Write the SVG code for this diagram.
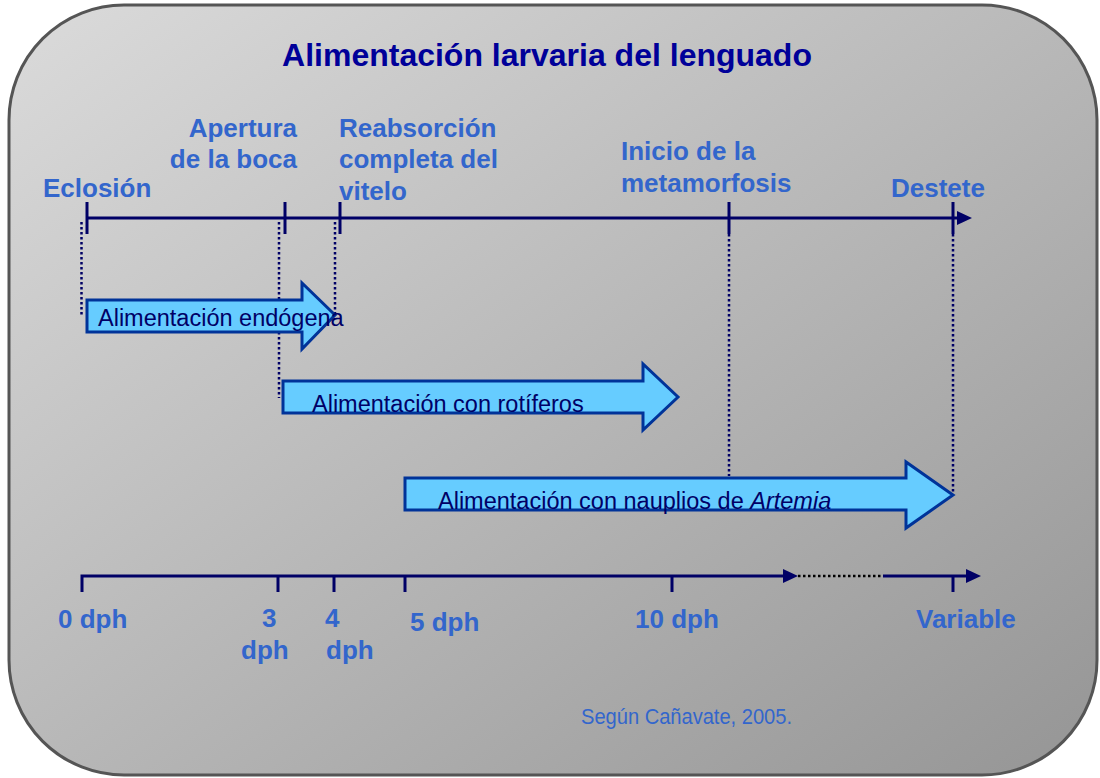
<svg xmlns="http://www.w3.org/2000/svg" width="1100" height="778" viewBox="0 0 1100 778">
<defs>
<linearGradient id="bg" x1="0" y1="0" x2="1" y2="1">
<stop offset="0" stop-color="#dbdbdb"/>
<stop offset="1" stop-color="#959595"/>
</linearGradient>
<style>
.lbl{font-family:"Liberation Sans",Arial,sans-serif;font-weight:bold;font-size:26px;fill:#3366cc}
.atx{font-family:"Liberation Sans",Arial,sans-serif;font-size:23.5px;fill:#000066}
.axis{stroke:#000066;stroke-width:3;fill:none}
.dot{stroke:#000066;stroke-width:2.5;stroke-dasharray:2.5 2.5;fill:none}
.arr{fill:#66ccff;stroke:#003399;stroke-width:3;stroke-linejoin:miter}
.head{fill:#000066}
</style>
</defs>
<rect id="frame" x="9" y="5" width="1088" height="770" rx="115" ry="115" fill="url(#bg)" stroke="#555555" stroke-width="3"/>
<text id="title" x="547" y="66" text-anchor="middle" font-family="Liberation Sans, Arial, sans-serif" font-weight="bold" font-size="32" fill="#000099">Alimentación larvaria del lenguado</text>

<g id="connectors">
<line class="axis" x1="87" y1="218" x2="958" y2="218"/>
<polygon class="head" points="957,211 972,218 957,225"/>
<line class="axis" x1="87" y1="202" x2="87" y2="234"/>
<line class="axis" x1="285" y1="202" x2="285" y2="234"/>
<line class="axis" x1="340" y1="202" x2="340" y2="234"/>
<line class="axis" x1="729" y1="202" x2="729" y2="234"/>
<line class="axis" x1="953" y1="202" x2="953" y2="234"/>
<line class="dot" x1="81.5" y1="222" x2="81.5" y2="316"/>
<line class="dot" x1="279" y1="222" x2="279" y2="398"/>
<line class="dot" x1="335" y1="222" x2="335" y2="314"/>
<line class="dot" x1="729" y1="234" x2="729" y2="476"/>
<line class="dot" x1="953" y1="234" x2="953" y2="494"/>

<polyline class="axis" points="82,592 82,576 785,576"/>
<polygon class="head" points="783,569 798,576 783,583"/>
<line x1="798" y1="576" x2="883" y2="576" stroke="#000000" stroke-width="2.5" stroke-dasharray="2.5 2.5"/>
<line class="axis" x1="883" y1="576" x2="967" y2="576"/>
<polygon class="head" points="966,569 981,576 966,583"/>
<line class="axis" x1="278" y1="576" x2="278" y2="592"/>
<line class="axis" x1="334" y1="576" x2="334" y2="592"/>
<line class="axis" x1="405" y1="576" x2="405" y2="592"/>
<line class="axis" x1="672" y1="576" x2="672" y2="592"/>
<line class="axis" x1="953" y1="576" x2="953" y2="592"/>
</g>

<g id="events">
<text class="lbl" x="43" y="197">Eclosión</text>
<text class="lbl" x="297" y="137" text-anchor="end">Apertura</text>
<text class="lbl" x="297" y="168" text-anchor="end">de la boca</text>
<text class="lbl" x="339" y="137">Reabsorción</text>
<text class="lbl" x="339" y="168">completa del</text>
<text class="lbl" x="339" y="200">vitelo</text>
<text class="lbl" x="621" y="160">Inicio de la</text>
<text class="lbl" x="621" y="192">metamorfosis</text>
<text class="lbl" x="891" y="197">Destete</text>
</g>

<g id="arrow-endogena">
<polygon class="arr" points="87,300 302,300 302,283 335,315 302,349 302,332 87,332"/>
<text class="atx" x="98" y="326">Alimentación endógena</text>
</g>

<g id="arrow-rotiferos">
<polygon class="arr" points="283,381 643,381 643,364 678,397 643,430 643,413 283,413"/>
<text class="atx" x="312" y="412">Alimentación con rotíferos</text>
</g>

<g id="arrow-artemia">
<polygon class="arr" points="405,478 906,478 906,462 953,495 906,528 906,510 405,510"/>
<text class="atx" x="438" y="509">Alimentación con nauplios de <tspan font-style="italic">Artemia</tspan></text>
</g>

<g id="days">
<text class="lbl" x="58" y="628">0 dph</text>
<text class="lbl" x="262" y="627">3</text>
<text class="lbl" x="241" y="659">dph</text>
<text class="lbl" x="325" y="627">4</text>
<text class="lbl" x="326" y="659">dph</text>
<text class="lbl" x="410" y="631">5 dph</text>
<text class="lbl" x="635" y="628">10 dph</text>
<text class="lbl" x="916" y="628">Variable</text>
</g>

<text id="source" x="581" y="724" font-family="Liberation Sans, Arial, sans-serif" font-size="22" fill="#3366cc" textLength="211" lengthAdjust="spacingAndGlyphs">Según Cañavate, 2005.</text>
</svg>
